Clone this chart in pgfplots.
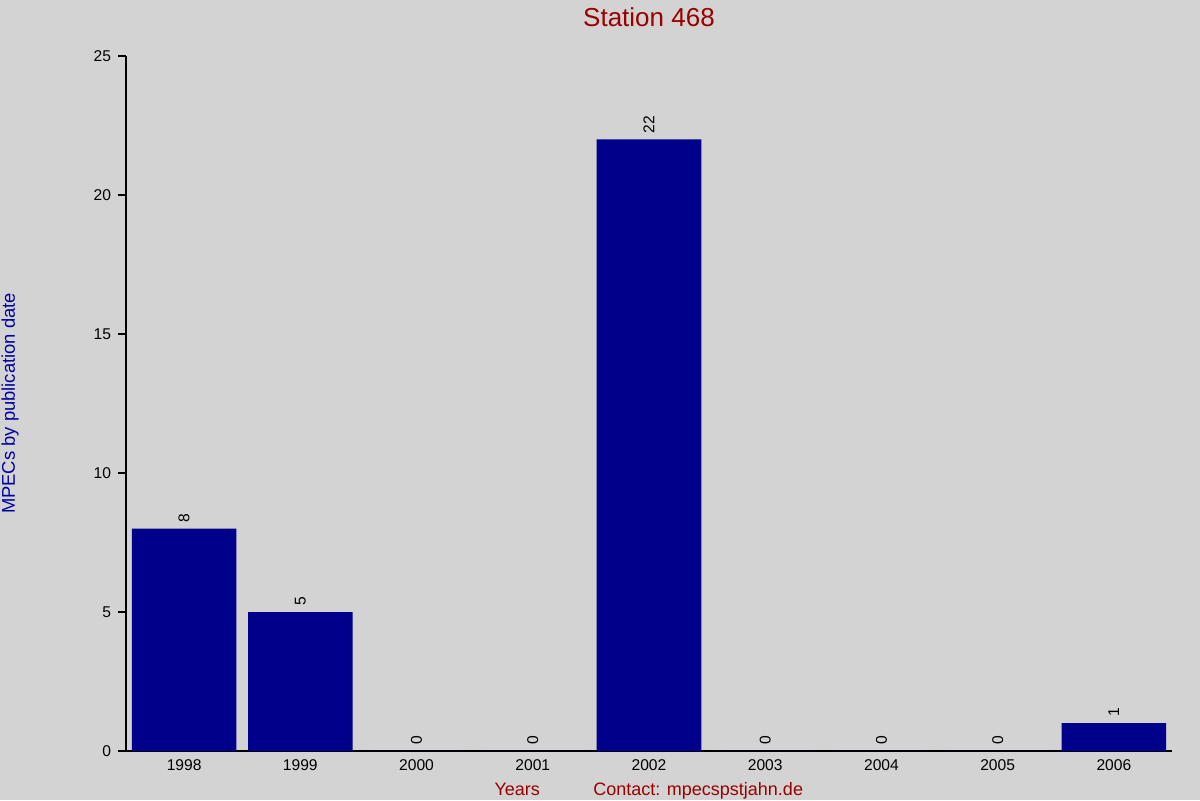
\documentclass[border=0pt]{standalone}
\usepackage{fontspec}
\setmainfont{Liberation Sans}
\usepackage{pgfplots}
\pgfplotsset{compat=1.18}
\definecolor{bggray}{HTML}{D3D3D3}
\definecolor{barblue}{HTML}{00008B}
\definecolor{titlered}{HTML}{990000}
\definecolor{labelblue}{HTML}{0000A0}
\begin{document}
\begin{tikzpicture}
% background, 1px = 0.5pt
\fill[bggray, use as bounding box] (-63pt,-24.5pt) rectangle (537pt,375.5pt);
\begin{axis}[
    at={(0,0)}, anchor=south west,
    scale only axis,
    width=523pt, height=347.5pt,
    clip=false,
    axis lines=left,
    axis line style={-, black, line width=0.6pt},
    ybar, bar width=0.9,
    xmin=-0.5, xmax=8.5,
    ymin=0, ymax=25,
    xtick=data,
    xticklabels={1998,1999,2000,2001,2002,2003,2004,2005,2006},
    ytick={0,5,10,15,20,25},
    major x tick style={draw=none},
    major y tick style={black, line width=0.6pt},
    tick align=outside,
    major tick length=4pt,
    /pgf/number format/assume math mode=true,
    ticklabel style={font=\fontsize{7.8}{9}\selectfont, text=black},
    xticklabel style={yshift=3pt},
    nodes near coords,
    every node near coord/.append style={rotate=90, anchor=west, inner sep=3pt,
        font=\fontsize{7.8}{9}\selectfont, text=black},
    title={Station 468},
    title style={at={(axis description cs:0.5,1)}, anchor=center, yshift=13.5pt,
        font=\fontsize{13}{15}\selectfont, text=titlered},
    xlabel={Years},
    xlabel style={at={(axis description cs:0.374,0)}, anchor=base, yshift=-22pt,
        font=\fontsize{9}{10}\selectfont, text=titlered},
    ylabel={MPECs by publication date},
    ylabel style={at={(axis description cs:0,0.5)}, anchor=center, yshift=58pt,
        font=\fontsize{9.2}{10}\selectfont, text=labelblue},
]
\addplot[fill=barblue, draw=none] coordinates {
    (0,8) (1,5) (2,0) (3,0) (4,22) (5,0) (6,0) (7,0) (8,1)
};
\node[anchor=base, font=\fontsize{9}{10}\selectfont, text=titlered]
    at (axis description cs:0.547,0) [yshift=-22pt] {Contact: mpecspstjahn.de};
\end{axis}
\end{tikzpicture}
\end{document}
